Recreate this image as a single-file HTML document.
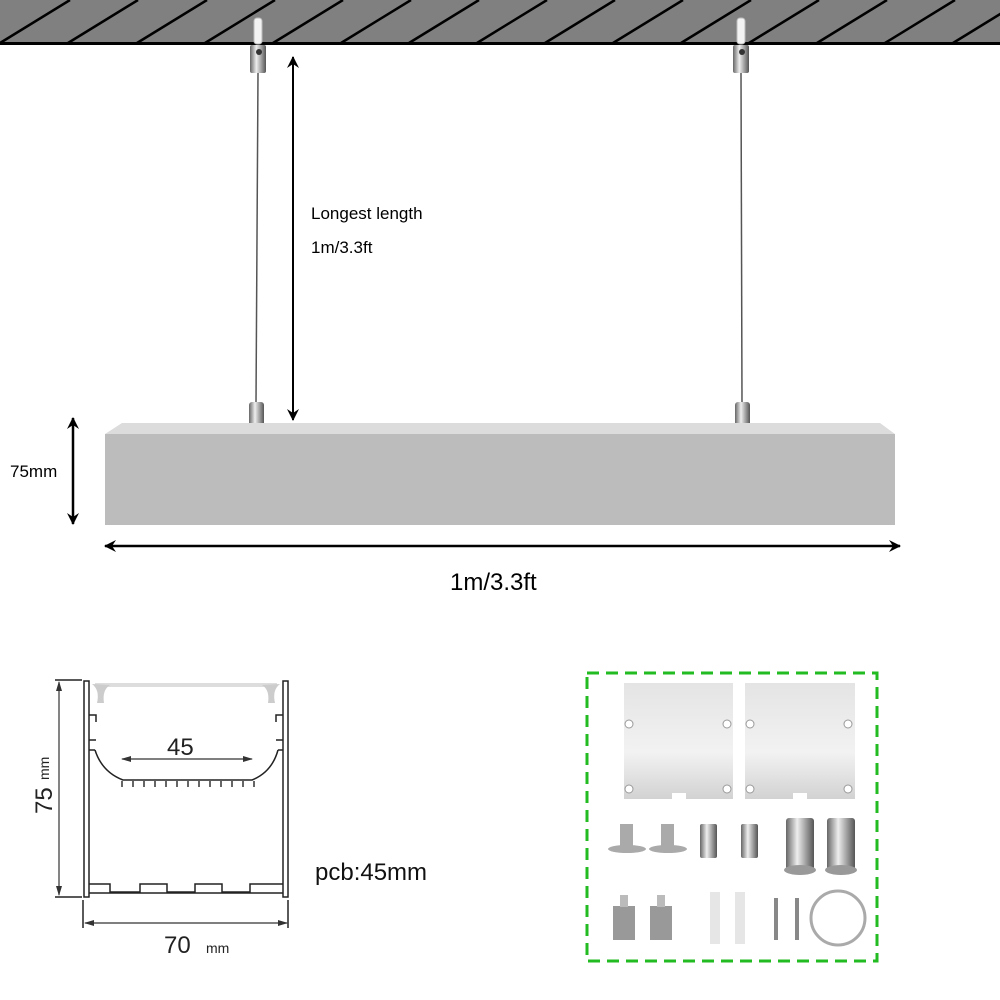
<!DOCTYPE html>
<html><head><style>
html,body{margin:0;padding:0;background:#fff;}
svg{display:block;}
text{font-family:"Liberation Sans",Arial,sans-serif;}
</style></head><body>
<svg width="1000" height="1000" viewBox="0 0 1000 1000" xmlns="http://www.w3.org/2000/svg">
<defs>
<marker id="ah" markerWidth="12" markerHeight="12" refX="11" refY="6" orient="auto-start-reverse" markerUnits="userSpaceOnUse"><path d="M0,0 L12,6 L0,12 L4,6 Z" fill="#000"/></marker>
<marker id="ah2" markerWidth="10" markerHeight="8" refX="9" refY="4" orient="auto-start-reverse" markerUnits="userSpaceOnUse"><path d="M0,1 L10,4 L0,7 Z" fill="#333"/></marker>
<linearGradient id="met" x1="0" x2="1"><stop offset="0" stop-color="#666"/><stop offset=".4" stop-color="#eee"/><stop offset="1" stop-color="#555"/></linearGradient>
<linearGradient id="plate" x1="0" y1="0" x2="0" y2="1"><stop offset="0" stop-color="#e4e4e4"/><stop offset=".6" stop-color="#f2f2f2"/><stop offset="1" stop-color="#d2d2d2"/></linearGradient>
</defs>
<rect x="0" y="0" width="1000" height="43" fill="#808080"/>
<g stroke="#000" stroke-width="2.5">
<line x1="0" y1="43" x2="70" y2="0"/><line x1="68" y1="43" x2="138" y2="0"/><line x1="137" y1="43" x2="207" y2="0"/><line x1="205" y1="43" x2="275" y2="0"/><line x1="273" y1="43" x2="343" y2="0"/><line x1="341" y1="43" x2="411" y2="0"/><line x1="409" y1="43" x2="479" y2="0"/><line x1="477" y1="43" x2="547" y2="0"/><line x1="545" y1="43" x2="615" y2="0"/><line x1="613" y1="43" x2="683" y2="0"/><line x1="681" y1="43" x2="751" y2="0"/><line x1="749" y1="43" x2="819" y2="0"/><line x1="817" y1="43" x2="887" y2="0"/><line x1="885" y1="43" x2="955" y2="0"/><line x1="953" y1="43" x2="1023" y2="0"/>
</g>
<rect x="0" y="42" width="1000" height="3" fill="#000"/>
<g>
<rect x="254" y="18" width="8" height="26" rx="3" fill="#f3f3f3" stroke="#bbb"/>
<rect x="250" y="45" width="16" height="28" rx="2" fill="url(#met)"/>
<circle cx="259" cy="52" r="3" fill="#333"/>
<line x1="258" y1="73" x2="256" y2="403" stroke="#555" stroke-width="1.5"/>
<rect x="249" y="402" width="15" height="26" rx="3" fill="url(#met)"/>
<rect x="737" y="18" width="8" height="26" rx="3" fill="#f3f3f3" stroke="#bbb"/>
<rect x="733" y="45" width="16" height="28" rx="2" fill="url(#met)"/>
<circle cx="742" cy="52" r="3" fill="#333"/>
<line x1="741" y1="73" x2="742" y2="403" stroke="#555" stroke-width="1.5"/>
<rect x="735" y="402" width="15" height="26" rx="3" fill="url(#met)"/>
</g>
<line x1="293" y1="57" x2="293" y2="420" stroke="#000" stroke-width="2" marker-start="url(#ah)" marker-end="url(#ah)"/>
<text x="311" y="219" font-size="17">Longest length</text>
<text x="311" y="253" font-size="17">1m/3.3ft</text>
<path d="M105,434 L122,423 L880,423 L895,434 Z" fill="#dcdcdc"/>
<rect x="105" y="434" width="790" height="91" fill="#bcbcbc"/>
<line x1="73" y1="418" x2="73" y2="524" stroke="#000" stroke-width="2.5" marker-start="url(#ah)" marker-end="url(#ah)"/>
<text x="10" y="477" font-size="17">75mm</text>
<line x1="105" y1="546" x2="900" y2="546" stroke="#000" stroke-width="2.5" marker-start="url(#ah)" marker-end="url(#ah)"/>
<text x="450" y="590" font-size="24">1m/3.3ft</text>
<g fill="none" stroke="#222" stroke-width="1.5">
<line x1="55" y1="680" x2="82" y2="680"/><line x1="55" y1="897" x2="82" y2="897"/>
<line x1="83" y1="900" x2="83" y2="928"/><line x1="288" y1="900" x2="288" y2="928"/>
<rect x="84" y="681" width="5" height="216"/>
<rect x="283" y="681" width="5" height="216"/>
<path d="M95,750 Q102,772 123,780 L252,780 Q272,772 278,750"/>
<path d="M89,715 L96,715 L96,722 M89,740 L96,740 M283,715 L276,715 L276,722 M283,740 L276,740 M89,750 L95,750 M283,750 L278,750"/>
</g>
<path d="M95,683 L277,683 L277,687 L95,687 Z" fill="#ddd"/>
<path d="M92,684 Q100,690 97,703 L104,703 Q102,690 110,685 Z" fill="#ccc"/>
<path d="M280,684 Q272,690 275,703 L268,703 Q270,690 262,685 Z" fill="#ccc"/>
<g stroke="#333" stroke-width="1.5">
<line x1="122" y1="781" x2="122" y2="787"/><line x1="133" y1="781" x2="133" y2="787"/><line x1="144" y1="781" x2="144" y2="787"/><line x1="155" y1="781" x2="155" y2="787"/><line x1="166" y1="781" x2="166" y2="787"/><line x1="177" y1="781" x2="177" y2="787"/><line x1="188" y1="781" x2="188" y2="787"/><line x1="199" y1="781" x2="199" y2="787"/><line x1="210" y1="781" x2="210" y2="787"/><line x1="221" y1="781" x2="221" y2="787"/><line x1="232" y1="781" x2="232" y2="787"/><line x1="243" y1="781" x2="243" y2="787"/><line x1="254" y1="781" x2="254" y2="787"/>
</g>
<path d="M89,884 L110,884 L110,892 L140,892 L140,884 L167,884 L167,892 L195,892 L195,884 L222,884 L222,892 L250,892 L250,884 L283,884 M89,893 L283,893" fill="none" stroke="#222" stroke-width="1.5"/>
<line x1="59" y1="682" x2="59" y2="895" stroke="#333" stroke-width="1.2" marker-start="url(#ah2)" marker-end="url(#ah2)"/>
<line x1="85" y1="923" x2="287" y2="923" stroke="#333" stroke-width="1.2" marker-start="url(#ah2)" marker-end="url(#ah2)"/>
<line x1="122" y1="759" x2="252" y2="759" stroke="#333" stroke-width="1.2" marker-start="url(#ah2)" marker-end="url(#ah2)"/>
<text x="167" y="755" font-size="24" fill="#222">45</text>
<text x="164" y="953" font-size="24" fill="#222">70</text><text x="206" y="953" font-size="14" fill="#222">mm</text>
<text transform="translate(52,814) rotate(-90)" font-size="24" fill="#222">75</text>
<text transform="translate(49,780) rotate(-90)" font-size="14" fill="#222">mm</text>
<text x="315" y="880" font-size="24" fill="#111">pcb:45mm</text>
<rect x="587" y="673" width="290" height="288" fill="none" stroke="#22bb22" stroke-width="3" stroke-dasharray="12,7"/>
<path d="M624,683 L733,683 L733,799 L686,799 L686,793 L672,793 L672,799 L624,799 Z" fill="url(#plate)"/>
<path d="M745,683 L855,683 L855,799 L807,799 L807,793 L793,793 L793,799 L745,799 Z" fill="url(#plate)"/>
<g fill="#fff" stroke="#999"><circle cx="629" cy="724" r="4"/><circle cx="727" cy="724" r="4"/><circle cx="629" cy="789" r="4"/><circle cx="727" cy="789" r="4"/><circle cx="750" cy="724" r="4"/><circle cx="848" cy="724" r="4"/><circle cx="750" cy="789" r="4"/><circle cx="848" cy="789" r="4"/></g>
<g fill="#aaa">
<ellipse cx="627" cy="849" rx="19" ry="4"/><rect x="620" y="824" width="13" height="24"/>
<ellipse cx="668" cy="849" rx="19" ry="4"/><rect x="661" y="824" width="13" height="24"/>
</g>
<rect x="700" y="824" width="17" height="34" rx="2" fill="url(#met)"/>
<rect x="741" y="824" width="17" height="34" rx="2" fill="url(#met)"/>
<rect x="786" y="818" width="28" height="52" rx="3" fill="url(#met)"/><ellipse cx="800" cy="870" rx="16" ry="5" fill="#999"/>
<rect x="827" y="818" width="28" height="52" rx="3" fill="url(#met)"/><ellipse cx="841" cy="870" rx="16" ry="5" fill="#999"/>
<rect x="613" y="906" width="22" height="34" fill="#999"/><rect x="620" y="895" width="8" height="12" fill="#bbb"/>
<rect x="650" y="906" width="22" height="34" fill="#999"/><rect x="657" y="895" width="8" height="12" fill="#bbb"/>
<rect x="710" y="892" width="10" height="52" fill="#e6e6e6"/><rect x="735" y="892" width="10" height="52" fill="#e6e6e6"/>
<rect x="774" y="898" width="4" height="42" fill="#888"/><rect x="795" y="898" width="4" height="42" fill="#888"/>
<ellipse cx="838" cy="918" rx="27" ry="27" fill="none" stroke="#aaa" stroke-width="3"/>
</svg>
</body></html>
